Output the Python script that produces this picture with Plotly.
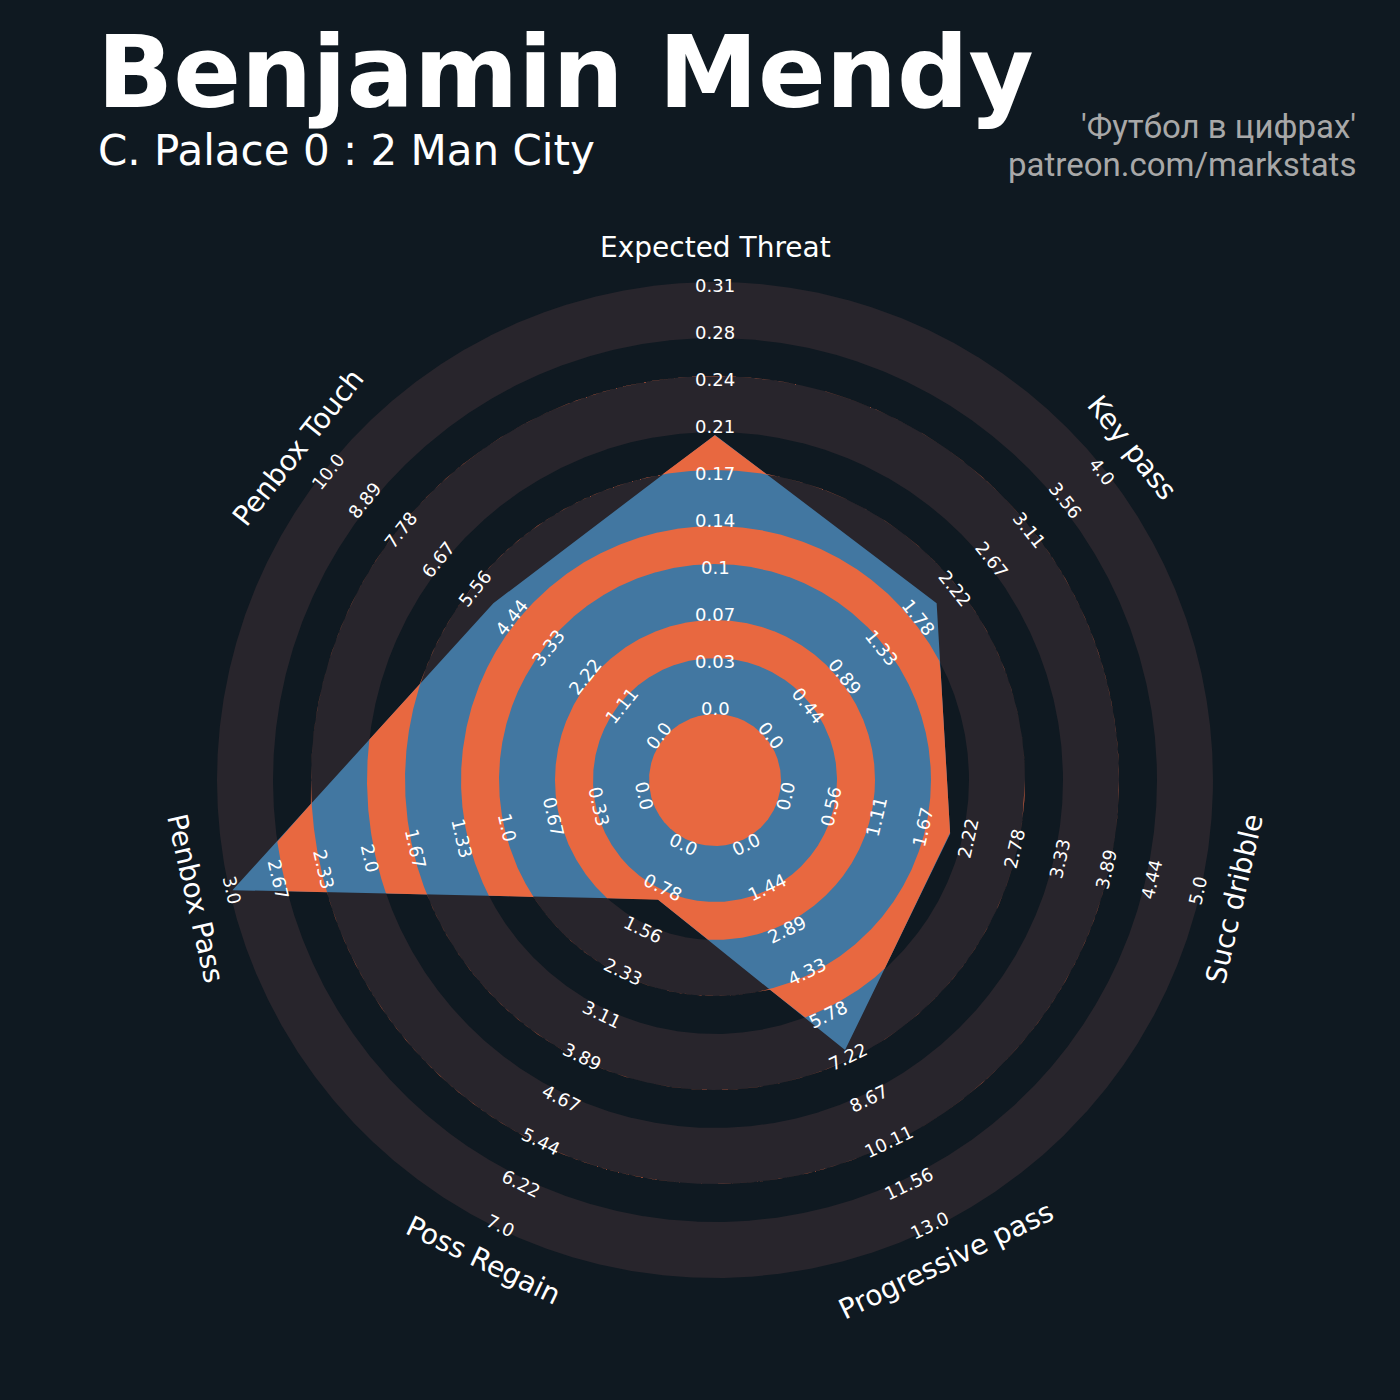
import numpy as np
import plotly.graph_objects as go

# radar data
params = ["Expected Threat", "Key pass", "Succ dribble", "Progressive pass",
          "Poss Regain", "Penbox Pass", "Penbox Touch"]
values = [0.2, 2, 2, 7, 1, 3, 5]
range_min = [0.0, 0.0, 0.0, 0.0, 0.0, 0.0, 0.0]
range_max = [0.31, 4.0, 5.0, 13.0, 7.0, 3.0, 10.0]

ticks_xt = ["0.0", "0.03", "0.07", "0.1", "0.14", "0.17", "0.21", "0.24", "0.28", "0.31"]
ticks_kp = ["0.0", "0.44", "0.89", "1.33", "1.78", "2.22", "2.67", "3.11", "3.56", "4.0"]
ticks_sd = ["0.0", "0.56", "1.11", "1.67", "2.22", "2.78", "3.33", "3.89", "4.44", "5.0"]
ticks_pp = ["0.0", "1.44", "2.89", "4.33", "5.78", "7.22", "8.67", "10.11", "11.56", "13.0"]
ticks_pr = ["0.0", "0.78", "1.56", "2.33", "3.11", "3.89", "4.67", "5.44", "6.22", "7.0"]
ticks_pb = ["0.0", "0.33", "0.67", "1.0", "1.33", "1.67", "2.0", "2.33", "2.67", "3.0"]
ticks_pt = ["0.0", "1.11", "2.22", "3.33", "4.44", "5.56", "6.67", "7.78", "8.89", "10.0"]
tick_labels = [ticks_xt, ticks_kp, ticks_sd, ticks_pp, ticks_pr, ticks_pb, ticks_pt]

title = "Benjamin Mendy"
subtitle = "C. Palace 0 : 2 Man City"
credit1 = "'Футбол в цифрах'"
credit2 = "patreon.com/markstats"

# styling
BG = "#0f1921"
RING = "#28252c"
BLUE = "#4277a1"
ORANGE = "#e86840"
R_MIN, R_MAX = 72, 495
R_LABEL = 533
grey_rings = [(66, 122), (160, 216), (254, 310), (348, 404), (442, 498)]
dark_rings = [(0, 66), (122, 160), (216, 254), (310, 348), (404, 442)]

n = len(params)
angles = np.pi / 2 - np.arange(n) * 2 * np.pi / n


def scale(v, lo, hi):
    return R_MIN + (v - lo) / (hi - lo) * (R_MAX - R_MIN)


radii = np.array([scale(v, lo, hi) for v, lo, hi in zip(values, range_min, range_max)])
px = radii * np.cos(angles)
py = radii * np.sin(angles)

theta = np.sort(np.concatenate([np.linspace(0, 2 * np.pi, 2400), np.mod(angles, 2 * np.pi)]))
ux, uy = np.cos(theta), np.sin(theta)


def poly_radius():
    # distance from centre to the polygon edge along each theta
    best = np.full(theta.shape, np.inf)
    for i in range(n):
        ax_, ay_ = px[i], py[i]
        dx, dy = px[(i + 1) % n] - ax_, py[(i + 1) % n] - ay_
        den = ux * dy - uy * dx
        with np.errstate(divide="ignore", invalid="ignore"):
            t = (ax_ * dy - ay_ * dx) / den
            s = (ax_ * uy - ay_ * ux) / den
        ok = (s >= -1e-9) & (s <= 1 + 1e-9) & (t > 0)
        best = np.where(ok & (t < best), t, best)
    return best


rp = poly_radius()

fig = go.Figure()


def ring_trace(r_outer, r_inner, color):
    xo, yo = r_outer * ux, r_outer * uy
    if np.all(np.asarray(r_inner) == 0):
        xs, ys = xo, yo
    else:
        xi, yi = (r_inner * ux)[::-1], (r_inner * uy)[::-1]
        xs, ys = np.concatenate([xo, xi]), np.concatenate([yo, yi])
    return go.Scatter(x=xs, y=ys, mode="lines", fill="toself", fillcolor=color,
                      line=dict(width=0, color=color), hoverinfo="skip", showlegend=False)


for r1, r2 in grey_rings:
    fig.add_trace(ring_trace(np.full(theta.shape, r2), np.full(theta.shape, r1), RING))

fig.add_trace(go.Scatter(x=np.append(px, px[0]), y=np.append(py, py[0]), mode="lines",
                         fill="toself", fillcolor=BLUE, line=dict(width=0, color=BLUE),
                         hoverinfo="skip", showlegend=False))

for r1, r2 in dark_rings:
    outer = np.clip(rp, r1, r2)
    fig.add_trace(ring_trace(outer, np.full(theta.shape, r1), ORANGE))


def text_rot(a):
    rot = np.degrees(a) - 90
    while rot >= 90:
        rot -= 180
    while rot < -90:
        rot += 180
    return -rot


annotations = []
for i in range(n):
    rot = text_rot(angles[i])
    for k, lab in enumerate(tick_labels[i]):
        r = R_MIN + k * (R_MAX - R_MIN) / (len(tick_labels[i]) - 1)
        annotations.append(dict(x=r * np.cos(angles[i]), y=r * np.sin(angles[i]), text=lab,
                                textangle=rot, showarrow=False, xanchor="center", yanchor="middle",
                                font=dict(family="DejaVu Sans", size=18, color="white")))
    annotations.append(dict(x=R_LABEL * np.cos(angles[i]), y=R_LABEL * np.sin(angles[i]),
                            text=params[i], textangle=rot, showarrow=False,
                            xanchor="center", yanchor="middle",
                            font=dict(family="DejaVu Sans", size=28, color="white")))

# titles (x, y in pixel-like data units relative to radar centre)
annotations += [
    dict(x=-620, y=780 - 72, text=title, showarrow=False, xanchor="left", yanchor="middle",
         font=dict(family="DejaVu Sans", size=100, color="white", weight="bold")),
    dict(x=-619, y=780 - 150, text=subtitle, showarrow=False, xanchor="left", yanchor="middle",
         font=dict(family="DejaVu Sans", size=42, color="white")),
    dict(x=643, y=780 - 126, text=credit1, showarrow=False, xanchor="right", yanchor="middle",
         font=dict(family="Roboto", size=33, color="#a8a8a8")),
    dict(x=643, y=780 - 164, text=credit2, showarrow=False, xanchor="right", yanchor="middle",
         font=dict(family="Roboto", size=33, color="#a8a8a8")),
]

fig.update_layout(
    width=1400, height=1400,
    margin=dict(l=0, r=0, t=0, b=0),
    paper_bgcolor=BG, plot_bgcolor=BG,
    xaxis=dict(range=[-715, 685], visible=False, fixedrange=True),
    yaxis=dict(range=[-620, 780], visible=False, fixedrange=True),
    annotations=annotations,
    showlegend=False,
)

fig.write_html("out.html", config={"displayModeBar": False},
               post_script="document.body.style.margin='0';document.body.style.background='%s';" % BG)
